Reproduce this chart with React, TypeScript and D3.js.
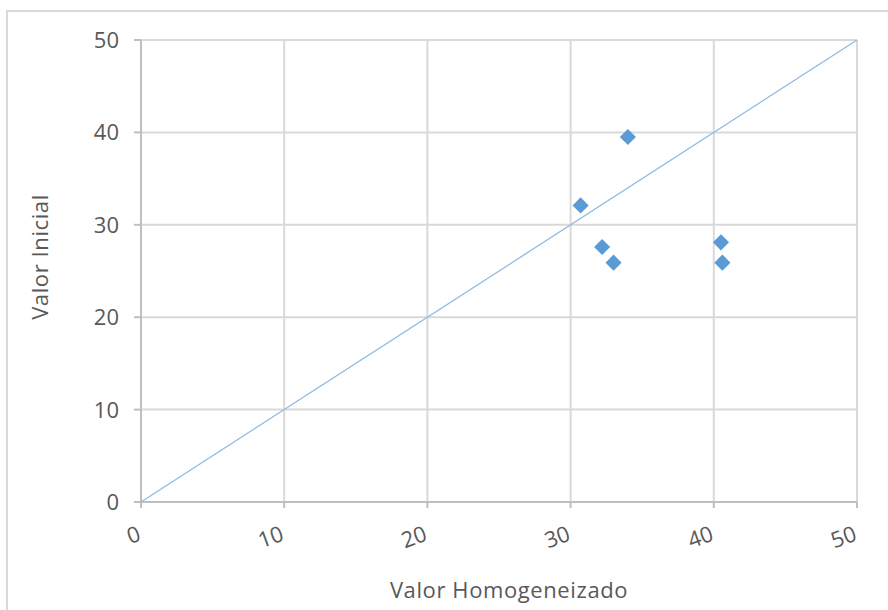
import React from "react";
import * as d3 from "d3";

const pointsX = [34.0, 30.7, 32.2, 33.0, 40.5, 40.6];
const pointsY = [39.5, 32.1, 27.6, 25.9, 28.1, 25.9];
const refLineX = [0, 50];
const refLineY = [0, 50];
const ticks = [0, 10, 20, 30, 40, 50];
const xTitle = "Valor Homogeneizado";
const yTitle = "Valor Inicial";

export default function App() {
  const W = 888, H = 610;
  const x = d3.scaleLinear().domain([0, 50]).range([141, 857]);
  const y = d3.scaleLinear().domain([0, 50]).range([502, 40]);
  const font = "'Open Sans', 'Noto Sans', sans-serif";
  const line = d3.line<number>().x((d) => x(refLineX[d])).y((d) => y(refLineY[d]));
  const diamond = d3.symbol().type(d3.symbolSquare).size(130)();
  return (
    <svg width={W} height={H} style={{ position: "absolute", left: 0, top: 0, background: "#fff" }}>
      <rect x={7} y={11} width={1000} height={1000} fill="none" stroke="#d9d9d9" strokeWidth={2} />
      {ticks.filter((t) => t > 0).map((t) => (
        <g key={"g" + t}>
          <line x1={x(t)} x2={x(t)} y1={y(0)} y2={y(50)} stroke="#d9d9d9" strokeWidth={2} />
          <line x1={x(0)} x2={x(50)} y1={y(t)} y2={y(t)} stroke="#d9d9d9" strokeWidth={2} />
        </g>
      ))}
      <line x1={x(0)} x2={x(0)} y1={y(0)} y2={y(50)} stroke="#bfbfbf" strokeWidth={2} />
      <line x1={x(0)} x2={x(50)} y1={y(0)} y2={y(0)} stroke="#bfbfbf" strokeWidth={2} />
      {ticks.map((t) => (
        <g key={"t" + t}>
          <line x1={x(0) - 7} x2={x(0)} y1={y(t)} y2={y(t)} stroke="#bfbfbf" strokeWidth={2} />
          <line x1={x(t)} x2={x(t)} y1={y(0)} y2={y(0) + 6} stroke="#bfbfbf" strokeWidth={2} />
          <text x={119} y={y(t)} dy="0.36em" textAnchor="end" fontFamily={font} fontSize={22} fill="#595959">{t}</text>
          <text transform={`translate(${x(t) + 1},540) rotate(-20)`} textAnchor="end" fontFamily={font} fontSize={22} fill="#595959">{t}</text>
        </g>
      ))}
      <path d={line([0, 1]) || ""} fill="none" stroke="#8fbbe3" strokeWidth={1.3} />
      {pointsX.map((px, i) => (
        <path key={"p" + i} d={diamond} transform={`translate(${x(px)},${y(pointsY[i])}) rotate(45)`} fill="#5b9bd5" />
      ))}
      <text x={509} y={590} dy="0.35em" textAnchor="middle" fontFamily={font} fontSize={22} letterSpacing={0.6} fill="#595959">{xTitle}</text>
      <text transform="translate(40,257) rotate(-90)" dy="0.35em" textAnchor="middle" fontFamily={font} fontSize={22} letterSpacing={0.6} fill="#595959">{yTitle}</text>
    </svg>
  );
}
